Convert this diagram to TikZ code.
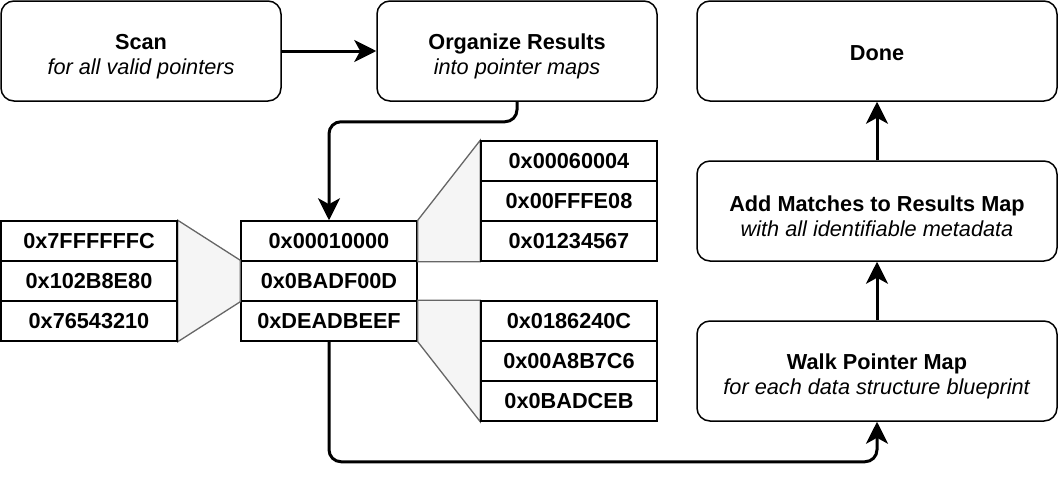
\documentclass[tikz,border=0pt]{standalone}
\usepackage{fontspec}
\setmainfont{Liberation Sans}
\usetikzlibrary{arrows.meta}
\definecolor{funnelfill}{HTML}{F5F5F5}
\definecolor{funnelline}{HTML}{666666}
\pgfdeclarelayer{bg}
\pgfsetlayers{bg,main}
\newcommand\mytopstrut{\rule{0pt}{26pt}}
\begin{document}
\begin{tikzpicture}[x=1pt,y=-1pt,
  box/.style={draw=black, line width=1.5pt, rounded corners=13pt, minimum width=280pt,
    minimum height=100pt, align=center, inner sep=0pt,
    font=\fontsize{21.7}{25.5}\selectfont},
  widebox/.style={box, minimum width=360pt},
  cell/.style={draw=black, line width=1.5pt, minimum width=176pt, minimum height=40pt,
    inner sep=0pt, fill=white, font=\fontsize{21.7}{26}\selectfont\bfseries},
  funnel/.style={draw=funnelline, fill=funnelfill, line width=1.3pt},
  flow/.style={draw=black, line width=3pt, rounded corners=12pt,
    -{Stealth[length=22pt,width=22pt,inset=6pt]}}
]
\useasboundingbox (0,0) rectangle (1058,480);

% process boxes
\node[box] (scan) at (141,51) {\mytopstrut\textbf{Scan}\\\textit{for all valid pointers}};
\node[box] (org) at (517,51) {\mytopstrut\textbf{Organize Results}\\\textit{into pointer maps}};
\node[widebox] (done) at (877,51) {\rule{0pt}{20pt}\textbf{Done}};
\node[widebox] (add) at (877,211) {\mytopstrut\textbf{Add Matches to Results Map}\\\textit{with all identifiable metadata}};
\node[widebox] (walk) at (877,371) {\mytopstrut\textbf{Walk Pointer Map}\\\textit{for each data structure blueprint}};

% left table
\node[cell] (l1) at (89,241) {0x7FFFFFFC};
\node[cell] (l2) at (89,281) {0x102B8E80};
\node[cell] (l3) at (89,321) {0x76543210};

% right top table
\node[cell] (r1) at (569,161) {0x00060004};
\node[cell] (r2) at (569,201) {0x00FFFE08};
\node[cell] (r3) at (569,241) {0x01234567};

% right bottom table
\node[cell] (s1) at (569,321) {0x0186240C};
\node[cell] (s2) at (569,361) {0x00A8B7C6};
\node[cell] (s3) at (569,401) {0x0BADCEB};

\begin{pgfonlayer}{bg}
  % middle table
  \node[cell] (m1) at (329,241) {0x00010000};
  \node[cell] (m2) at (329,281) {0x0BADF00D};
  \node[cell] (m3) at (329,321) {0xDEADBEEF};
  % funnels
  \path[funnel] (l1.north east) -- (m2.north west) -- (m2.south west) -- (l3.south east) -- cycle;
  \path[funnel] (m1.north east) -- (r1.north west) -- (r3.south west) -- (m1.south east) -- cycle;
  \path[funnel] (m3.north east) -- (s1.north west) -- (s3.south west) -- (m3.south east) -- cycle;
\end{pgfonlayer}

% connectors
\draw[flow] (scan.east) -- (org.west);
\draw[flow] (org.south) -- ++(0,20) -| (m1.north);
\draw[flow] (m3.south) -- ++(0,120) -| (walk.south);
\draw[flow] (walk.north) -- (add.south);
\draw[flow] (add.north) -- (done.south);
\end{tikzpicture}
\end{document}
